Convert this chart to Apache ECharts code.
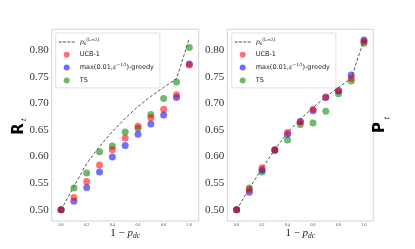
<!DOCTYPE html>
<html>
<head>
<meta charset="utf-8">
<script src="https://cdn.jsdelivr.net/npm/echarts@6/dist/echarts.min.js"></script>
<style>
html,body{margin:0;padding:0;background:#fff;}
#c{width:415px;height:249px;}
</style>
</head>
<body>
<div id="c"></div>
<script>
const xValues = [0.0, 0.1, 0.2, 0.3, 0.4, 0.5, 0.6, 0.7, 0.8, 0.9, 1.0];
const xTicks = [0.0, 0.2, 0.4, 0.6, 0.8, 1.0];
const yTicks = [0.50, 0.55, 0.60, 0.65, 0.70, 0.75, 0.80];

const leftLine   = [0.500, 0.544, 0.587, 0.619, 0.647, 0.672, 0.694, 0.713, 0.730, 0.746, 0.822];
const leftUCB    = [0.500, 0.523, 0.553, 0.584, 0.613, 0.635, 0.657, 0.673, 0.689, 0.716, 0.772];
const leftGreedy = [0.500, 0.516, 0.542, 0.571, 0.599, 0.621, 0.642, 0.661, 0.678, 0.711, 0.774];
const leftTS     = [0.500, 0.541, 0.569, 0.609, 0.620, 0.646, 0.653, 0.679, 0.709, 0.740, 0.805];

const rightLine   = [0.500, 0.540, 0.578, 0.613, 0.645, 0.670, 0.692, 0.712, 0.730, 0.747, 0.820];
const rightUCB    = [0.500, 0.538, 0.579, 0.613, 0.645, 0.665, 0.689, 0.712, 0.724, 0.747, 0.816];
const rightGreedy = [0.500, 0.533, 0.575, 0.613, 0.642, 0.666, 0.686, 0.711, 0.723, 0.753, 0.819];
const rightTS     = [0.500, 0.541, 0.571, 0.611, 0.631, 0.660, 0.663, 0.685, 0.718, 0.742, 0.813];

const names = ['p_s^(L=2)', 'UCB-1', 'max(0.01,e^-1/t)-greedy', 'TS'];
const colors = {UCB: 'rgba(255,0,0,0.7)', greedy: 'rgba(0,0,255,0.7)', TS: 'rgba(0,128,0,0.7)'};

const pair = arr => xValues.map((x, i) => [x, arr[i]]);

function axesFor(idx) {
  return {
    x: {
      type: 'value', gridIndex: idx, min: -0.073, max: 1.073,
      axisLine: {show: false}, axisTick: {show: false}, splitLine: {show: false},
      axisLabel: {customValues: xTicks, formatter: v => v.toFixed(1), fontSize: 4,
                  color: '#444', fontFamily: 'Liberation Serif', margin: 2}
    },
    y: {
      type: 'value', gridIndex: idx, min: 0.479, max: 0.839,
      axisLine: {show: false}, axisTick: {show: false}, splitLine: {show: false},
      axisLabel: {customValues: yTicks, formatter: v => v.toFixed(2), fontSize: 11,
                  color: '#333', fontFamily: 'Liberation Serif', margin: 3}
    }
  };
}
const a0 = axesFor(0), a1 = axesFor(1);

function seriesFor(idx, line, ucb, greedy, ts) {
  const sc = (name, data, color) => ({
    type: 'scatter', name, xAxisIndex: idx, yAxisIndex: idx, data: pair(data),
    symbolSize: 7, itemStyle: {color}, emphasis: {disabled: true}
  });
  return [
    sc(names[3], ts, colors.TS),
    sc(names[2], greedy, colors.greedy),
    sc(names[1], ucb, colors.UCB),
    {type: 'line', name: names[0], xAxisIndex: idx, yAxisIndex: idx, data: pair(line),
     symbol: 'none', lineStyle: {color: '#555', width: 1, type: [3, 2]}, itemStyle: {color: '#555'},
     z: 5}
  ];
}

const legendRich = {
  t: {fontSize: 6.5, fontFamily: 'DejaVu Sans', color: '#222', lineHeight: 8},
  i: {fontSize: 6.5, fontFamily: 'DejaVu Serif', fontStyle: 'italic', color: '#222', lineHeight: 8},
  u: {fontSize: 4.5, fontFamily: 'DejaVu Serif', color: '#222', lineHeight: 8, padding: [0, 0, 5, 0]},
  s: {fontSize: 4.5, fontFamily: 'DejaVu Serif', fontStyle: 'italic', color: '#222', lineHeight: 8, padding: [3, 0, 0, 0]}
};
function legendFmt(name) {
  if (name === names[0]) return '{i|p}{s|s}{u|(L=2)}';
  if (name === names[2]) return '{t|max(0.01,}{i|ε}{u|−1/t}{t|)-greedy}';
  return '{t|' + name + '}';
}
const dashIcon = 'path://M0,0L0.01,0M16,6L15.99,6M0,2.55h3v0.9h-3zM4.3,2.55h3v0.9h-3zM8.6,2.55h3v0.9h-3zM12.9,2.55h3v0.9h-3z';
function legendFor(left) {
  return {
    left, top: 33, orient: 'vertical',
    data: [{name: names[0], icon: dashIcon}, names[1], names[2], names[3]],
    itemWidth: 16, itemHeight: 6, itemGap: 4.3,
    padding: [4, 6, 4, 3], borderColor: '#e2e2e2', borderWidth: 1, borderRadius: 2,
    backgroundColor: '#fff', selectedMode: false,
    formatter: legendFmt, textStyle: {fontSize: 6.5, color: '#222', rich: legendRich}
  };
}

const xTitle = x => ({type: 'text', x, y: 233, style: {
  text: '{n|1 − }{i|p}{s|dc}', align: 'center', verticalAlign: 'middle',
  rich: {
    n: {fontSize: 11, fontFamily: 'Liberation Serif', fill: '#222', lineHeight: 14},
    i: {fontSize: 11, fontFamily: 'Liberation Serif', fontStyle: 'italic', fill: '#222', lineHeight: 14},
    s: {fontSize: 7.5, fontFamily: 'Liberation Serif', fontStyle: 'italic', fill: '#222', lineHeight: 14, padding: [6, 0, 0, 0]}
  }}});

const chart = echarts.init(document.getElementById('c'), null, {renderer: 'canvas'});
chart.setOption({
  animation: false,
  backgroundColor: '#fff',
  grid: [
    {left: 51.7, top: 29.3, width: 147, height: 191.7, show: true, borderColor: '#d4d4d4', borderWidth: 1},
    {left: 227.3, top: 29.3, width: 146, height: 191.7, show: true, borderColor: '#d4d4d4', borderWidth: 1}
  ],
  xAxis: [a0.x, a1.x],
  yAxis: [a0.y, a1.y],
  legend: [legendFor(55.7), legendFor(231.7)],
  series: [
    ...seriesFor(0, leftLine, leftUCB, leftGreedy, leftTS),
    ...seriesFor(1, rightLine, rightUCB, rightGreedy, rightTS)
  ],
  graphic: [
    {type: 'text', x: 19, y: 129, rotation: Math.PI / 2,
     style: {text: 'R', fontSize: 15, fontWeight: 'bold', fontFamily: 'DejaVu Sans', fill: '#000', align: 'center', verticalAlign: 'middle'}},
    {type: 'text', x: 24.5, y: 119.5, rotation: Math.PI / 2,
     style: {text: 't', fontSize: 7, fontStyle: 'italic', fontFamily: 'DejaVu Serif', fill: '#000', align: 'center', verticalAlign: 'middle'}},
    {type: 'text', x: 380.5, y: 127.5, rotation: Math.PI / 2,
     style: {text: 'P', fontSize: 15, fontWeight: 'bold', fontFamily: 'DejaVu Sans', fill: '#000', align: 'center', verticalAlign: 'middle'}},
    {type: 'text', x: 387.5, y: 118, rotation: Math.PI / 2,
     style: {text: 't', fontSize: 7, fontStyle: 'italic', fontFamily: 'DejaVu Serif', fill: '#000', align: 'center', verticalAlign: 'middle'}},
    xTitle(125.2),
    xTitle(300.3)
  ]
});
</script>
</body>
</html>
